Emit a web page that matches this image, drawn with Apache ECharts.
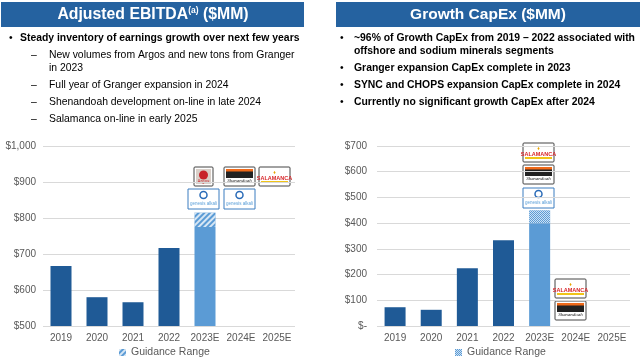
<!DOCTYPE html>
<html><head><meta charset="utf-8">
<script src="https://cdn.jsdelivr.net/npm/echarts@6/dist/echarts.min.js"></script>
<style>html,body{margin:0;padding:0;background:#fff}#c{width:640px;height:361px}</style>
</head><body><div id="c"></div>
<script>
const categories = ['2019','2020','2021','2022','2023E','2024E','2025E'];
const ebitdaActual = [667, 580, 566, 717, 775, null, null];
const ebitdaGuidanceHigh = [null, null, null, null, 815, null, null];
const capexActual = [73, 63, 225, 333, 400, null, null];
const capexGuidanceHigh = [null, null, null, null, 450, null, null];
const ebitdaTicks = ['$500','$600','$700','$800','$900','$1,000'];
const capexTicks = ['$-','$100','$200','$300','$400','$500','$600','$700'];

const dark = '#1f5a96', light = '#5b9bd5', band = '#2562a0';
const diff = (hi, lo) => hi.map((v,i)=> v==null ? null : v - lo[i]);
const solidData = (arr) => arr.map((v,i)=> v==null?null:{value:v, itemStyle:{color: categories[i].endsWith('E')?light:dark}});
const decalL = {symbol:'rect', symbolSize:1, rotation:-Math.PI/4, dashArrayX:[1,0], dashArrayY:[1.5,1.5], color:'rgba(255,255,255,0.75)'};
const decalR = {symbol:'rect', symbolSize:1, dashArrayX:[[1,1],[0,1,1,0]], dashArrayY:[1,0], color:'rgba(255,255,255,0.7)'};

const axisLab = {color:'#595959', fontSize:10, fontFamily:'Liberation Sans, Arial'};
const chart = echarts.init(document.getElementById('c'));

function logo(type, x, y){
  const w=31, h=19;
  if(type==='sal') return {type:'group', x, y, children:[
    {type:'rect', shape:{x:0,y:0,width:w,height:h,r:1}, style:{fill:'#fff', stroke:'#444', lineWidth:1}},
    {type:'text', style:{x:w/2,y:3,text:'♦',fill:'#e8a400',fontSize:5,align:'center'}},
    {type:'text', style:{x:w/2,y:8,text:'SALAMANCA',fill:'#d8262a',fontSize:5.5,fontWeight:'bold',align:'center',fontFamily:'Liberation Sans'}},
    {type:'rect', shape:{x:2,y:14,width:w-4,height:2}, style:{fill:'#f0c419'}}
  ]};
  if(type==='she') return {type:'group', x, y, children:[
    {type:'rect', shape:{x:0,y:0,width:w,height:h,r:1}, style:{fill:'#fff', stroke:'#444', lineWidth:1}},
    {type:'rect', shape:{x:2,y:2,width:w-4,height:9}, style:{fill:'#222'}},
    {type:'rect', shape:{x:2,y:2,width:w-4,height:2.5}, style:{fill:'#f06a1a'}},
    {type:'text', style:{x:w/2,y:11,text:'Shenandoah',fill:'#111',fontSize:5,fontStyle:'italic',align:'center',fontFamily:'Liberation Serif'}}
  ]};
  if(type==='arg') return {type:'group', x, y, children:[
    {type:'rect', shape:{x:0,y:0,width:19,height:h,r:1}, style:{fill:'#fff', stroke:'#444', lineWidth:1}},
    {type:'rect', shape:{x:2,y:2,width:15,height:15}, style:{fill:'#d9cfc8'}},
    {type:'circle', shape:{cx:9.5,cy:8,r:4.5}, style:{fill:'#c8232a'}},
    {type:'text', style:{x:9.5,y:12,text:'Argos',fill:'#c8232a',fontSize:4.5,align:'center'}}
  ]};
  if(type==='gen') return {type:'group', x, y, children:[
    {type:'rect', shape:{x:0,y:0,width:w,height:h+1}, style:{fill:'#fff', stroke:'#3b7cc0', lineWidth:1}},
    {type:'circle', shape:{cx:w/2,cy:6,r:3.5}, style:{fill:'#fff', stroke:'#2a6bb8', lineWidth:1.5}},
    {type:'text', style:{x:w/2,y:12,text:'genesis alkali',fill:'#5a9fd8',fontSize:4.5,align:'center'}}
  ]};
}
const T = (x,y,text,extra)=>({type:'text', style:Object.assign({x,y,text,fill:'#000',fontSize:10.4,fontFamily:'Liberation Sans',verticalAlign:'middle'},extra||{})});
const B = {fontWeight:'bold'};
const legText = {color:'#595959', fontSize:10.5, fontFamily:'Liberation Sans'};

chart.setOption({
  animation:false,
  grid:[
    {left:43, right:345, top:146, bottom:35},
    {left:377, right:10, top:146, bottom:35}
  ],
  xAxis:[
    {gridIndex:0, type:'category', data:categories, axisLine:{show:false}, axisTick:{show:false}, axisLabel:Object.assign({margin:7, interval:0},axisLab)},
    {gridIndex:1, type:'category', data:categories, axisLine:{show:false}, axisTick:{show:false}, axisLabel:Object.assign({margin:7, interval:0},axisLab)}
  ],
  yAxis:[
    {gridIndex:0, type:'value', min:500, max:1000, interval:100, axisLine:{show:false}, axisTick:{show:false},
     splitLine:{lineStyle:{color:'#d9d9d9'}},
     axisLabel:Object.assign({margin:7, formatter:(v)=>ebitdaTicks[Math.round((v-500)/100)]},axisLab)},
    {gridIndex:1, type:'value', min:0, max:700, interval:100, axisLine:{show:false}, axisTick:{show:false},
     splitLine:{lineStyle:{color:'#d9d9d9'}},
     axisLabel:Object.assign({margin:10, formatter:(v)=>capexTicks[Math.round(v/100)]},axisLab)}
  ],
  legend:[
    {data:['Guidance Range'], left:119, top:347, itemWidth:7, itemHeight:7, itemGap:3, icon:'rect', padding:0, textStyle:legText},
    {data:['Guidance Range '], left:455, top:347, itemWidth:7, itemHeight:7, itemGap:3, icon:'rect', padding:0, textStyle:legText}
  ],
  series:[
    {name:'EBITDA', type:'bar', xAxisIndex:0, yAxisIndex:0, stack:'a', barWidth:21, data:solidData(ebitdaActual), itemStyle:{color:dark}},
    {name:'Guidance Range', type:'bar', xAxisIndex:0, yAxisIndex:0, stack:'a', barWidth:21, data:diff(ebitdaGuidanceHigh, ebitdaActual), itemStyle:{color:light, decal:decalL}},
    {name:'CapEx', type:'bar', xAxisIndex:1, yAxisIndex:1, stack:'b', barWidth:21, data:solidData(capexActual), itemStyle:{color:dark}},
    {name:'Guidance Range ', type:'bar', xAxisIndex:1, yAxisIndex:1, stack:'b', barWidth:21, data:diff(capexGuidanceHigh, capexActual), itemStyle:{color:light, decal:decalR}}
  ],
  graphic:[
    {type:'rect', shape:{x:1,y:2,width:303,height:25}, style:{fill:band}},
    {type:'text', style:{x:153,y:14.5,text:'{t|Adjusted EBITDA}{s|(a)}{t| ($MM)}', align:'center', verticalAlign:'middle',
      rich:{t:{fill:'#fff',fontSize:15.8,fontWeight:'bold',fontFamily:'Liberation Sans'}, s:{fill:'#fff',fontSize:8.5,fontWeight:'bold',fontFamily:'Liberation Sans',verticalAlign:'top',padding:[0,0,8,0]}}}},
    {type:'rect', shape:{x:336,y:2,width:304,height:25}, style:{fill:band}},
    {type:'text', style:{x:488,y:14.5,text:'Growth CapEx ($MM)', align:'center', verticalAlign:'middle', fill:'#fff',fontSize:15.5,fontWeight:'bold',fontFamily:'Liberation Sans'}},
    // left bullets
    T(9,38,'•'), T(20,38,'Steady inventory of earnings growth over next few years',B),
    T(31,55,'–'), T(49,55,'New volumes from Argos and new tons from Granger'),
    T(49,68.5,'in 2023'),
    T(31,85,'–'), T(49,85,'Full year of Granger expansion in 2024'),
    T(31,102.5,'–'), T(49,102.5,'Shenandoah development on-line in late 2024'),
    T(31,119.5,'–'), T(49,119.5,'Salamanca on-line in early 2025'),
    // right bullets
    T(340,38,'•'), T(354,38,'~96% of Growth CapEx from 2019 – 2022 associated with',B),
    T(354,51.5,'offshore and sodium minerals segments',B),
    T(340,68.5,'•'), T(354,68.5,'Granger expansion CapEx complete in 2023',B),
    T(340,85.5,'•'), T(354,85.5,'SYNC and CHOPS expansion CapEx complete in 2024',B),
    T(340,102.5,'•'), T(354,102.5,'Currently no significant growth CapEx after 2024',B),
    // logos
    logo('arg',194,167), logo('she',224,167), logo('sal',259,167),
    logo('gen',188,189), logo('gen',224,189),
    logo('sal',523,143), logo('she',523,165), logo('gen',523,188),
    logo('sal',555,279), logo('she',555,301)
  ]
});
</script></body></html>
